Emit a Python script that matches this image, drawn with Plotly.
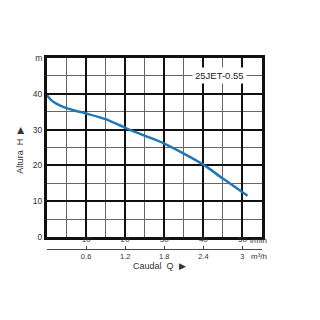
import plotly.graph_objects as go

# Data
flow_lmin = [0, 1, 2, 3, 5, 7.5, 10, 15, 20, 25, 30, 35, 40, 45, 51.3]
head_m = [39.6, 38.3, 37.5, 36.9, 36.0, 35.2, 34.5, 32.9, 30.5, 28.3, 26.1, 23.3, 20.2, 16.3, 11.5]

x_ticks = [10, 20, 30, 40, 50]
y_ticks = [0, 10, 20, 30, 40, 50]
y_tick_text = ["0", "10", "20", "30", "40", "m"]
m3h_ticks = [0.6, 1.2, 1.8, 2.4, 3]
m3h_tick_text = ["0.6", "1.2", "1.8", "2.4", "3"]
model_name = "25JET-0.55"

FONT = "Liberation Sans, Arial, sans-serif"
TXT = "#333333"

fig = go.Figure()
fig.add_trace(go.Scatter(
    x=flow_lmin, y=head_m, mode="lines",
    line=dict(color="#1f78b4", width=2.5, shape="spline", smoothing=0.8),
    showlegend=False, hoverinfo="skip",
))
# invisible traces for the helper axes
fig.add_trace(go.Scatter(x=[0, 3.3], y=[None, None], xaxis="x2", yaxis="y",
                         mode="lines", showlegend=False, hoverinfo="skip"))
fig.add_trace(go.Scatter(x=[0, 55], y=[None, None], xaxis="x3", yaxis="y",
                         mode="lines", showlegend=False, hoverinfo="skip"))

fig.update_layout(
    width=320, height=320,
    margin=dict(l=47, r=58, t=58, b=40),
    paper_bgcolor="white", plot_bgcolor="white",
    font=dict(family=FONT, size=8, color=TXT),
    xaxis=dict(
        range=[0, 55], tickvals=x_ticks, ticks="", showline=True, mirror=True,
        linecolor="#111111", linewidth=3, showticklabels=False,
        showgrid=True, gridcolor="#111111", gridwidth=2,
        minor=dict(dtick=5, tick0=0, showgrid=True, gridcolor="#666666", gridwidth=1),
        zeroline=False,
    ),
    xaxis3=dict(
        range=[0, 55], overlaying="x", anchor="free", position=0.21, side="bottom",
        tickvals=x_ticks, ticks="", showline=False, showgrid=False, zeroline=False,
        tickfont=dict(size=8, color=TXT),
    ),
    xaxis2=dict(
        range=[0, 3.3], overlaying="x", anchor="free", position=0.14, side="bottom",
        tickvals=m3h_ticks, ticktext=m3h_tick_text, ticks="inside", ticklen=3,
        tickcolor="#444444", showline=True, linecolor="#444444", linewidth=1,
        showgrid=False, zeroline=False, tickfont=dict(size=7.5, color=TXT),
    ),
    yaxis=dict(
        range=[0, 50], domain=[0.194, 1], tickvals=y_ticks, ticktext=y_tick_text,
        ticks="", showline=True, mirror=True, linecolor="#111111", linewidth=3,
        showgrid=True, gridcolor="#111111", gridwidth=2,
        minor=dict(dtick=5, tick0=0, showgrid=True, gridcolor="#666666", gridwidth=1),
        zeroline=False, tickfont=dict(size=8.5, color=TXT),
    ),
    annotations=[
        dict(text=model_name, x=44.2, y=45, xref="x", yref="y", showarrow=False,
             bgcolor="white", font=dict(size=9.5, color="#222222"), borderpad=2),
        dict(text="l/min", x=0.935, y=0.176, xref="paper", yref="paper",
             xanchor="left", yanchor="middle",
             showarrow=False, font=dict(size=8, color=TXT)),
        dict(text="m³/h", x=0.94, y=0.106, xref="paper", yref="paper",
             xanchor="left", yanchor="middle",
             showarrow=False, font=dict(size=8, color=TXT)),
        dict(text="Caudal  Q  ▶", x=0.523, y=0.063, xref="paper", yref="paper",
             xanchor="center", yanchor="middle",
             showarrow=False, font=dict(size=9, color=TXT)),
        dict(text="Altura  H  ▶", x=-0.126, y=0.586, xref="paper", yref="paper",
             xanchor="center", yanchor="middle",
             showarrow=False, textangle=-90, font=dict(size=9, color=TXT)),
    ],
)

fig.write_html("out.html")
